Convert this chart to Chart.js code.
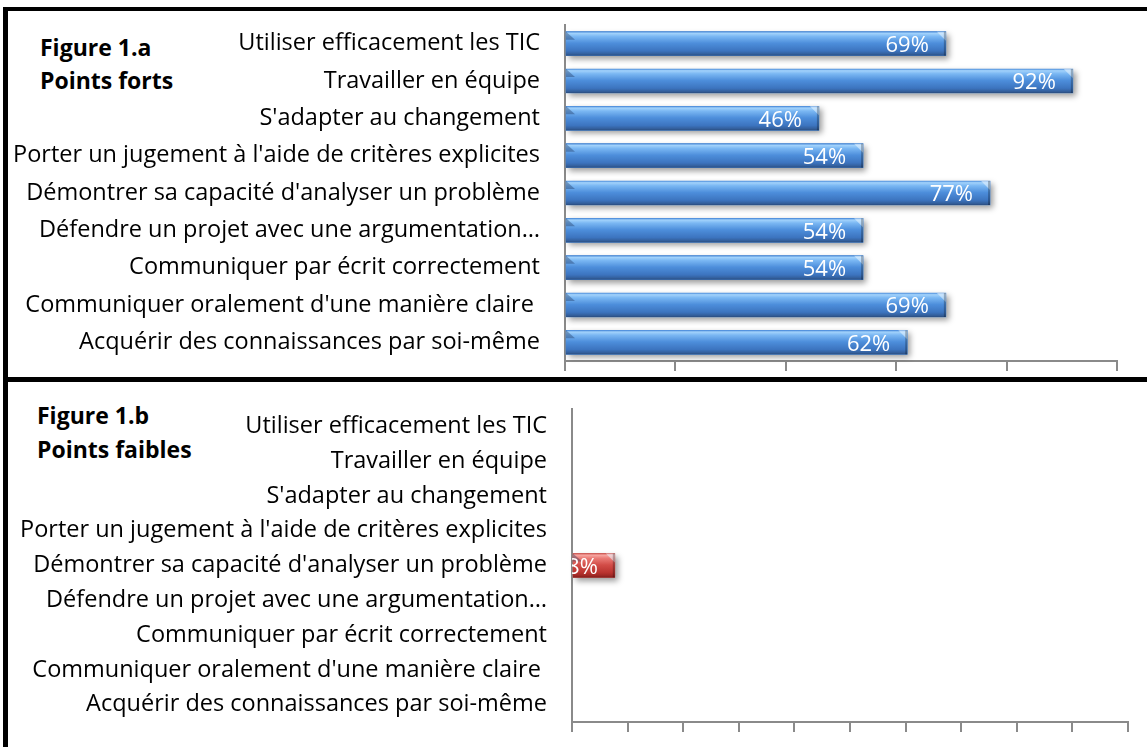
<!DOCTYPE html>
<html>
<head>
<meta charset="utf-8">
<script src="https://cdn.jsdelivr.net/npm/chart.js@4"></script>
<style>
  body { margin: 0; background: #fff; width: 1147px; height: 747px; overflow: hidden; position: relative; font-family: "Open Sans", sans-serif; }
  .rule { position: absolute; background: #000; }
  .title { position: absolute; font-weight: bold; font-size: 23px; line-height: 24px; color: #000; white-space: nowrap; }
  canvas { position: absolute; left: 8px; }
</style>
</head>
<body>
<div class="rule" style="left:3px; top:7px; width:1144px; height:4px;"></div>
<div class="rule" style="left:3px; top:7px; width:5px; height:740px;"></div>
<div class="rule" style="left:3px; top:377px; width:1144px; height:5px;"></div>

<div class="title" style="left:40px; top:35px;">Figure 1.a</div>
<div class="title" style="left:40px; top:68px;">Points forts</div>
<div class="title" style="left:37px; top:403px;">Figure 1.b</div>
<div class="title" style="left:37px; top:437px;">Points faibles</div>

<canvas id="forts" width="1139" height="366" style="top:11px;"></canvas>
<canvas id="faibles" width="1139" height="365" style="top:382px;"></canvas>

<script>
const competences = [
  'Utiliser efficacement les TIC',
  'Travailler en équipe',
  "S'adapter au changement",
  "Porter un jugement à l'aide de critères explicites",
  "Démontrer sa capacité d'analyser un problème",
  'Défendre un projet avec une argumentation…',
  'Communiquer par écrit correctement',
  "Communiquer oralement d'une manière claire ",
  'Acquérir des connaissances par soi-même'
];
const pointsForts = [69, 92, 46, 54, 77, 54, 54, 69, 62];
const pointsFaibles = [0, 0, 0, 0, 7.7, 0, 0, 0, 0];
const fortsAxisMax = 100, fortsStep = 20;
const faiblesAxisMax = 100, faiblesStep = 10;

const BLUE = ['#4f8fdc', '#a2d2fb', '#7ab7f3', '#4d8edb', '#3c74bf', '#335f9c', '#2a4d80'];
const RED = ['#d45a55', '#f6a6a1', '#ea7b76', '#d24c47', '#b9332f', '#9c2724', '#7d1d1b'];
const STOPS = [0, 0.07, 0.2, 0.48, 0.8, 0.93, 1];

// glossy bars + value labels, drawn over the bars chart.js placed
const glossPlugin = {
  id: 'gloss',
  beforeDatasetsDraw(chart) {
    const ctx = chart.ctx;
    chart.getDatasetMeta(0).data.forEach(bar => {
      const p = bar.getProps(['x', 'y', 'base', 'height'], true);
      if (p.x - p.base < 1) return;
      ctx.save();
      ctx.shadowColor = 'rgba(0,0,0,0.4)';
      ctx.shadowBlur = 6;
      ctx.shadowOffsetX = 3;
      ctx.shadowOffsetY = 3;
      ctx.fillStyle = '#777';
      ctx.fillRect(p.base, p.y - p.height / 2, p.x - p.base, p.height);
      ctx.restore();
    });
  },
  afterDatasetsDraw(chart, args, opts) {
    const ctx = chart.ctx;
    const area = chart.chartArea;
    const ds = chart.data.datasets[0];
    chart.getDatasetMeta(0).data.forEach((bar, i) => {
      const p = bar.getProps(['x', 'y', 'base', 'height'], true);
      const w = p.x - p.base;
      if (w < 1) return;
      const top = p.y - p.height / 2, bot = p.y + p.height / 2;
      ctx.save();
      const g = ctx.createLinearGradient(0, top, 0, bot);
      opts.colors.forEach((c, k) => g.addColorStop(STOPS[k], c));
      ctx.fillStyle = g;
      ctx.fillRect(p.base, top, w, p.height);
      // bevelled ends
      ctx.fillStyle = 'rgba(20,40,80,0.35)';
      ctx.beginPath();
      ctx.moveTo(p.base, top);
      ctx.lineTo(p.base + 9, top + 8);
      ctx.lineTo(p.base, top + 8);
      ctx.closePath();
      ctx.fill();
      ctx.fillStyle = 'rgba(235,245,255,0.55)';
      ctx.beginPath();
      ctx.moveTo(p.x - 9, top);
      ctx.lineTo(p.x, top);
      ctx.lineTo(p.x, top + 9);
      ctx.closePath();
      ctx.fill();
      ctx.fillStyle = 'rgba(0,0,0,0.25)';
      ctx.fillRect(p.x - 2, top, 2, p.height);
      // value label, clipped to the plot area
      ctx.beginPath();
      ctx.rect(area.left, area.top, area.right - area.left, area.bottom - area.top);
      ctx.clip();
      ctx.fillStyle = '#fff';
      ctx.font = '22px "Open Sans"';
      ctx.textAlign = 'right';
      ctx.textBaseline = 'middle';
      ctx.fillText(Math.round(ds.data[i]) + '%', p.x - 17, p.y + 2);
      ctx.restore();
    });
  }
};

function makeChart(id, values, colors, axisMax, step, geo) {
  return new Chart(document.getElementById(id), {
    type: 'bar',
    data: {
      labels: competences,
      datasets: [{
        data: values,
        backgroundColor: c => (c.raw > 0 ? colors[3] : 'rgba(0,0,0,0)'),
        borderWidth: 0,
        barThickness: 24
      }]
    },
    options: {
      indexAxis: 'y',
      responsive: false,
      animation: false,
      events: [],
      layout: { padding: { top: geo.top, right: geo.right, left: 0, bottom: 0 } },
      plugins: {
        legend: { display: false },
        tooltip: { enabled: false },
        gloss: { colors: colors }
      },
      scales: {
        x: {
          min: 0,
          max: axisMax,
          ticks: { display: false, stepSize: step },
          grid: { drawOnChartArea: false, drawTicks: true, tickLength: 10, color: '#8a8a8a', lineWidth: 2 },
          border: { color: '#8a8a8a', width: 2 },
          afterFit: s => {
            s.height = geo.xh;
            s.paddingLeft = s.paddingRight = 0;
          }
        },
        y: {
          grid: { display: false, drawTicks: false },
          border: { display: true, color: '#8a8a8a', width: 2 },
          ticks: { color: '#000', padding: 25, font: { family: 'Open Sans', size: 23.5 } },
          afterFit: s => {
            s.width = geo.yw;
            s.paddingTop = s.paddingBottom = 0;
          }
        }
      }
    },
    plugins: [glossPlugin]
  });
}

document.fonts.load('23.5px "Open Sans"').then(() => {
  makeChart('forts', pointsForts, BLUE, fortsAxisMax, fortsStep, { top: 14, right: 30, xh: 16, yw: 557 });
  makeChart('faibles', pointsFaibles, RED, faiblesAxisMax, faiblesStep, { top: 27, right: 19, xh: 25, yw: 564 });
});
</script>
</body>
</html>
